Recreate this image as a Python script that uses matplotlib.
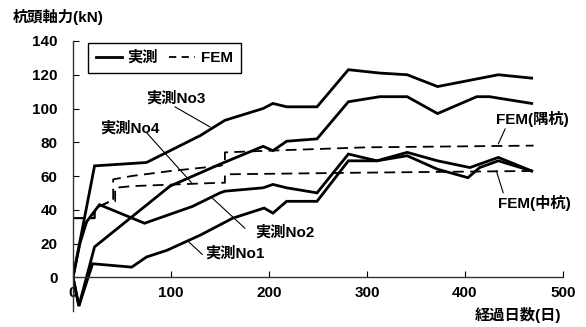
import matplotlib
matplotlib.use("Agg")
import matplotlib.pyplot as plt
from matplotlib.lines import Line2D

plt.rcParams['font.family'] = ['Liberation Sans', 'Noto Sans CJK JP', 'DejaVu Sans']
plt.rcParams['font.weight'] = 'bold'

# measured pile head axial force (kN) vs elapsed days
days_no1 = [0, 6, 20, 60, 75, 96, 130, 163, 195, 204, 218, 249, 281, 310, 341, 372, 403, 415, 434, 468]
force_no1 = [0, -17, 8, 6, 12, 16, 25, 35, 41, 38, 45, 45, 69, 69, 72, 64, 59, 65, 69, 63]

days_no2 = [0, 7, 14, 27, 73, 122, 150, 155, 194, 204, 218, 249, 281, 310, 341, 372, 405, 434, 468]
force_no2 = [0, 20, 33, 43, 32, 42, 50, 51, 53, 55, 53, 50, 73, 69, 74, 69, 65, 71, 63]

days_no3 = [0, 22, 75, 130, 155, 194, 204, 218, 249, 281, 313, 341, 372, 434, 468]
force_no3 = [0, 66, 68, 84, 93, 100, 103, 101, 101, 123, 121, 120, 113, 120, 118]

days_no4 = [0, 6, 22, 99, 150, 194, 204, 218, 249, 281, 313, 341, 372, 412, 425, 468]
force_no4 = [0, -17, 18, 54, 67, 77.6, 75, 80.6, 82, 104, 107, 107, 97, 107, 107, 103]

# FEM results
days_fem_corner = [0, 22, 22, 27, 38, 41, 41, 60, 100, 150, 155, 155, 200, 300, 470]
force_fem_corner = [35, 35, 38, 42, 45, 45, 58, 60, 63, 66, 67, 74, 75, 77, 78]

days_fem_middle = [0, 22, 22, 27, 38, 43, 43, 60, 150, 155, 155, 300, 470]
force_fem_middle = [35, 35, 38, 42, 45, 45, 53, 54, 56, 56, 61, 62, 63]

xticks = [0, 100, 200, 300, 400, 500]
yticks = [0, 20, 40, 60, 80, 100, 120, 140]

W, H = 586, 327
fig = plt.figure(figsize=(W / 100, H / 100), dpi=100)
ax = fig.add_axes([73 / W, 16 / H, 490 / W, 270 / H])

solid_kw = dict(color='black', lw=2.0, solid_joinstyle='miter')
dash_kw = dict(color='black', lw=1.3, dashes=(6, 3.5))

for d, f in [(days_no1, force_no1), (days_no2, force_no2),
             (days_no3, force_no3), (days_no4, force_no4)]:
    ax.plot(d, f, **solid_kw)
ax.plot(days_fem_corner, force_fem_corner, **dash_kw)
ax.plot(days_fem_middle, force_fem_middle, **dash_kw)

ax.set_xlim(0, 500)
ax.set_ylim(-20, 140)
ax.set_xticks(xticks)
ax.set_yticks(yticks)
ax.spines['bottom'].set_position(('data', 0))
ax.spines['top'].set_visible(False)
ax.spines['right'].set_visible(False)
for s in ['left', 'bottom']:
    ax.spines[s].set_linewidth(1.0)
    ax.spines[s].set_color('#333333')
ax.tick_params(axis='x', direction='in', length=4, pad=6, labelsize=11)
ax.tick_params(axis='y', direction='in', length=4, pad=11, labelsize=11)

# legend
handles = [Line2D([], [], **solid_kw), Line2D([], [], color='black', lw=1.3, dashes=(4, 3))]
leg = ax.legend(handles, ['実測', 'FEM'], ncol=2, loc='upper left',
                bbox_to_anchor=(88 / W, 1 - 43 / H), bbox_transform=fig.transFigure,
                frameon=True, fancybox=False, edgecolor='black', framealpha=1,
                handlelength=1.7, handletextpad=0.4, columnspacing=0.7,
                borderaxespad=0, borderpad=0.5, prop={'size': 11, 'weight': 'bold'})
leg.get_frame().set_linewidth(1.0)

# series labels with leader lines
lead = dict(arrowstyle='-', color='black', lw=0.8, shrinkA=0, shrinkB=0)
labels = [
    ('実測No3', (105, 106), (104, 101), (140, 89)),
    ('実測No4', (58, 88), (75.5, 85.4), (121, 56)),
    ('実測No2', (216, 26.7), (175.5, 29), (142, 47)),
    ('実測No1', (165, 14), (132, 13.5), (118, 21)),
    ('FEM(隅杭)', (469, 94), (441, 88), (434, 79)),
    ('FEM(中杭)', (471, 44), (439, 50), (432, 63)),
]
for text, pos, p0, p1 in labels:
    ax.text(pos[0], pos[1], text, ha='center', va='center', fontsize=11,
            fontweight='bold', clip_on=False)
    ax.annotate('', xy=p1, xytext=p0, arrowprops=lead, annotation_clip=False)

fig.text(13 / W, 1 - 17 / H, '杭頭軸力(kN)', ha='left', va='center',
         fontsize=11, fontweight='bold')
fig.text(475 / W, 1 - 315 / H, '経過日数(日)', ha='left', va='center',
         fontsize=11, fontweight='bold')

fig.savefig('out.png', dpi=100)
